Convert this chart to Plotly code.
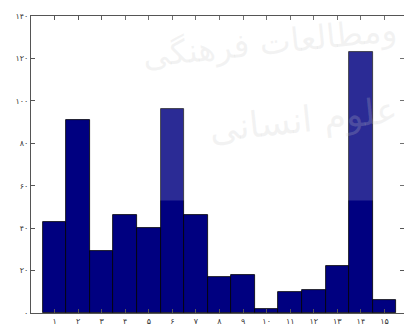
import plotly.graph_objects as go

# Frequency per class (classes 1..15)
categories = list(range(1, 16))
values = [43, 91, 29, 46, 40, 96, 46, 17, 18, 2, 10, 11, 22, 123, 6]

fa_digits = str.maketrans("0123456789", "۰۱۲۳۴۵۶۷۸۹")
x_labels = [str(c).translate(fa_digits) for c in categories]
y_ticks = list(range(0, 141, 20))
y_labels = [str(v).translate(fa_digits) for v in y_ticks]

fig = go.Figure(
    go.Bar(
        x=categories,
        y=values,
        width=1.0,
        marker=dict(color="#000080", line=dict(color="#000000", width=0.8)),
    )
)

axis_common = dict(
    showline=True,
    linecolor="#555555",
    linewidth=1,
    mirror="ticks",
    ticks="inside",
    ticklen=4,
    tickcolor="#555555",
    showgrid=False,
    zeroline=False,
    tickfont=dict(family="DejaVu Sans", size=8, color="#333333"),
)

fig.update_xaxes(range=[0, 15.83], tickvals=categories, ticktext=x_labels, **axis_common)
fig.update_yaxes(range=[0, 140], tickvals=y_ticks, ticktext=y_labels, **axis_common)

# faint publisher watermark
wm_color = "rgba(200,200,200,0.22)"
fig.add_annotation(
    xref="paper", yref="paper", x=0.99, y=1.03, xanchor="right", yanchor="top",
    text="ومطالعات فرهنگی", showarrow=False, textangle=-6,
    font=dict(family="DejaVu Sans", size=33, color=wm_color),
)
fig.add_annotation(
    xref="paper", yref="paper", x=0.995, y=0.76, xanchor="right", yanchor="top",
    text="علوم انسانی", showarrow=False, textangle=-6,
    font=dict(family="DejaVu Sans", size=36, color=wm_color),
)
# light wash from the watermark box over the upper right
fig.add_shape(
    type="rect", xref="x", yref="y", x0=3, x1=16, y0=53, y1=140,
    fillcolor="white", opacity=0.17, line=dict(width=0), layer="above",
)

fig.update_layout(
    width=404,
    height=325,
    margin=dict(l=31, r=0, t=16, b=12),
    paper_bgcolor="white",
    plot_bgcolor="white",
    bargap=0,
    showlegend=False,
)

fig.write_html("out.html")
